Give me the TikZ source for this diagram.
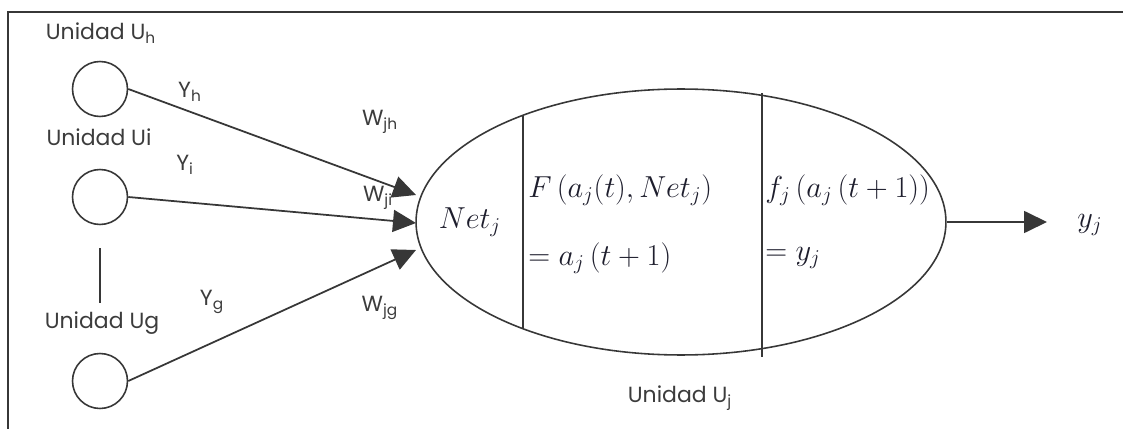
\documentclass[tikz,border=0pt]{standalone}
\usepackage{fontspec}
\setsansfont{Poppins}
\usetikzlibrary{shapes.geometric,arrows.meta}

\begin{document}
\begin{tikzpicture}[x=0.02cm,y=-0.02cm,every node/.style={font=\sffamily\fontsize{12.5}{15}\selectfont}]
			% Define colors
			\definecolor{linegray}{RGB}{55, 55, 55}
			\definecolor{textgray}{RGB}{60, 60, 60}
			\definecolor{mathink}{RGB}{30, 30, 45}

			% Styles
			\tikzstyle{unit_circle} = [circle, draw=linegray, line width=0.9pt, minimum size=1.1cm, inner sep=0pt]
			\tikzstyle{unit_label} = [text=textgray, inner sep=0pt]
			\tikzstyle{body_ellipse} = [ellipse, draw=linegray, line width=0.9pt, minimum width=10.6cm, minimum height=5.32cm, inner sep=0pt]
			\tikzstyle{math_text} = [text=mathink, inner sep=0pt, font=\fontsize{18}{21}\selectfont]
			\tikzstyle{signal} = [draw=linegray, line width=1pt, -{Triangle[length=0.46cm,width=0.44cm]}]

			% Page and frame
			\useasboundingbox (0,0) rectangle (1123,429);
			\draw[linegray, line width=1.3pt] (8,429) -- (8,12) -- (1123,12);

			% Input units
			\node[unit_circle] (uh) at (100, 89) {};
			\node[unit_circle] (ui) at (100, 197) {};
			\node[unit_circle] (ug) at (100, 381) {};
			\node[unit_label] (uhlabel) at (101, 33) {Unidad U\textsubscript{h}};
			\node[unit_label] (uilabel) at (99, 137) {Unidad Ui};
			\node[unit_label] (uglabel) at (102, 323) {Unidad Ug};
			\draw[linegray, line width=1pt] (100, 248) -- (100, 303);

			% Unit j
			\node[body_ellipse] (uj) at (681, 222) {};
			\draw[linegray, line width=1pt] (523, 116) -- (523, 328);
			\draw[linegray, line width=1pt] (762, 93) -- (762, 357);
			\node[unit_label] (ujlabel) at (680, 398) {Unidad U\textsubscript{j}};

			% Inputs arrive here
			\coordinate (inh) at (416, 195);
			\coordinate (ini) at (416, 223);
			\coordinate (ing) at (416, 250);

			% Arrows into unit j
			\draw[signal] (uh.east) -- (inh);
			\draw[signal] (ui.east) -- (ini);
			\draw[signal] (ug.east) -- (ing);

			% Outputs and weights
			\node[unit_label] (yh) at (190, 92) {Y\textsubscript{h}};
			\node[unit_label] (yi) at (185, 165) {Y\textsubscript{i}};
			\node[unit_label] (yg) at (212, 302) {Y\textsubscript{g}};
			\node[unit_label] (wjh) at (380, 122) {W\textsubscript{jh}};
			\node[unit_label] (wji) at (378, 198) {W\textsubscript{ji}};
			\node[unit_label] (wjg) at (380, 308) {W\textsubscript{jg}};

			% Inside unit j
			\node[math_text] (net) at (470, 222) {$Net_j$};
			\node[math_text, anchor=west] (act) at (528, 190) {$F\left(a_j(t),Net_j\right)$};
			\node[math_text, anchor=west] (actval) at (528, 258) {$=a_j\left(t+1\right)$};
			\node[math_text, anchor=west] (outf) at (765, 190) {$f_j\left(a_j\left(t+1\right)\right)$};
			\node[math_text, anchor=west] (outval) at (765, 258) {$=y_j$};

			% Output
			\node[math_text] (yj) at (1090, 225) {$y_j$};
			\draw[signal] (uj.east) -- (1047, 222);

		\end{tikzpicture}
\end{document}
